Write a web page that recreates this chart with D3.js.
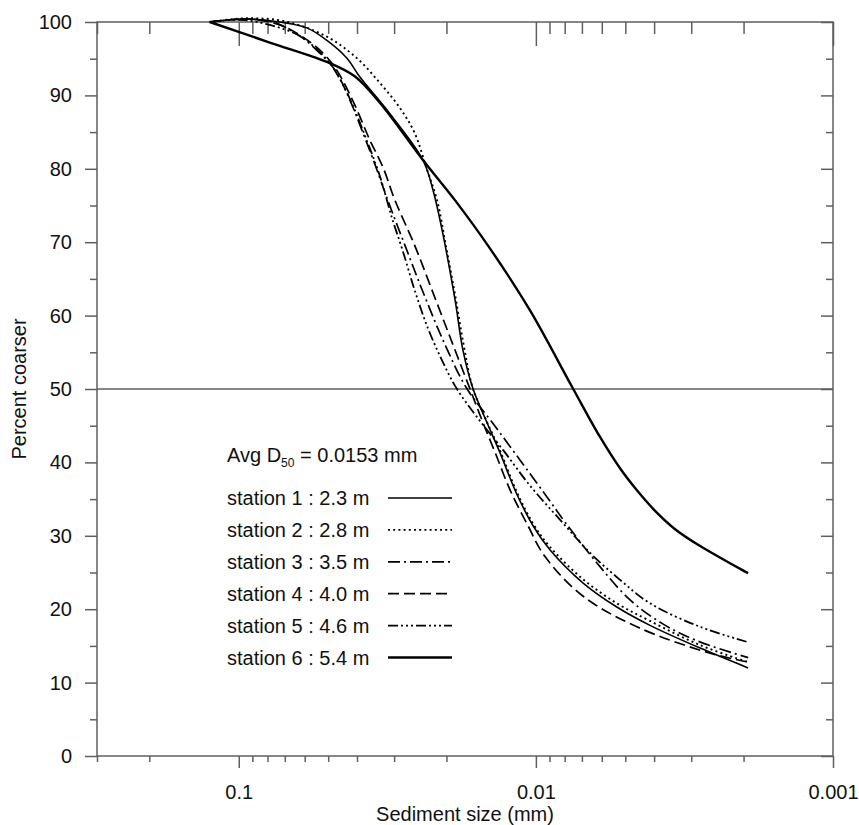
<!DOCTYPE html>
<html>
<head>
<meta charset="utf-8">
<script src="https://cdn.jsdelivr.net/npm/d3@7"></script>
<style>
  body { margin: 0; background: #fff; }
  svg { font-family: "Liberation Sans", Arial, sans-serif; }
  .ax path.domain { display: none; }
  .ax line { stroke: #5f5f5f; stroke-width: 1.5; }
  .ax text { font-size: 20px; fill: #111; font-family: "Liberation Sans", Arial, sans-serif; }
</style>
</head>
<body>
<svg id="chart" width="859" height="825"></svg>
<script>
// grain size (mm) and percent coarser
const s1Size = [0.1252, 0.0954, 0.0728, 0.0590, 0.0505, 0.0433, 0.0391, 0.0317, 0.0240, 0.0222, 0.0206, 0.0187, 0.0176, 0.0163, 0.0146, 0.0132, 0.0116, 0.0102, 0.00897, 0.00695, 0.00534, 0.00413, 0.00280, 0.00193];
const s1Pct  = [100, 100.4, 100, 99.2, 97.5, 95.1, 92.5, 88.0, 81.2, 77.1, 71.3, 62.1, 55.3, 50.1, 45.4, 41.3, 35.7, 31.3, 28.1, 23.6, 20.3, 17.8, 14.7, 12.0];

const s2Size = [0.1252, 0.0954, 0.0700, 0.0505, 0.0401, 0.0335, 0.0287, 0.0256, 0.0233, 0.0215, 0.0201, 0.0187, 0.0175, 0.0163, 0.0146, 0.0132, 0.0116, 0.0102, 0.00897, 0.00695, 0.00534, 0.00413, 0.00280, 0.00193];
const s2Pct  = [100, 100.5, 100.1, 98.0, 95.1, 91.7, 88.3, 84.9, 80.0, 75.7, 69.6, 62.8, 56.0, 50.1, 45.5, 41.6, 36.0, 31.6, 28.5, 24.1, 20.8, 18.4, 15.1, 12.8];

const s3Size = [0.1252, 0.0954, 0.0756, 0.0609, 0.0526, 0.0475, 0.0423, 0.0382, 0.0348, 0.0315, 0.0276, 0.0236, 0.0202, 0.0171, 0.0140, 0.0113, 0.00918, 0.00799, 0.00623, 0.00483, 0.00374, 0.00287, 0.00193];
const s3Pct  = [100, 100.4, 99.9, 97.8, 95.5, 93.5, 89.4, 84.9, 80.6, 75.7, 69.6, 62.5, 56.0, 50.1, 45.4, 40.3, 35.3, 31.9, 26.3, 21.3, 18.0, 15.7, 13.4];

const s4Size = [0.1252, 0.0918, 0.0716, 0.0586, 0.0513, 0.0464, 0.0407, 0.0362, 0.0327, 0.0298, 0.0256, 0.0219, 0.0190, 0.0167, 0.0152, 0.0137, 0.0122, 0.0107, 0.00933, 0.00695, 0.00457, 0.00259, 0.00193];
const s4Pct  = [100, 100.4, 99.5, 97.5, 95.5, 93.2, 88.7, 83.9, 80.2, 75.7, 69.6, 62.5, 56.0, 50.1, 45.8, 41.3, 36.2, 31.6, 27.2, 21.8, 17.6, 14.0, 12.8];

const s5Size = [0.1252, 0.0992, 0.0786, 0.0623, 0.0534, 0.0486, 0.0440, 0.0407, 0.0371, 0.0335, 0.0305, 0.0280, 0.0256, 0.0231, 0.0207, 0.0185, 0.0158, 0.0129, 0.0105, 0.00830, 0.00658, 0.00521, 0.00413, 0.00280, 0.00193];
const s5Pct  = [100, 100.3, 99.6, 98.1, 95.9, 94.0, 91.0, 88.0, 83.9, 79.0, 73.3, 68.7, 63.5, 58.3, 53.9, 50.1, 46.2, 41.7, 36.9, 32.2, 27.7, 24.0, 20.8, 17.6, 15.5];

const s6Size = [0.1252, 0.0786, 0.0494, 0.0407, 0.0335, 0.0240, 0.0187, 0.0143, 0.0105, 0.00751, 0.00609, 0.00521, 0.00457, 0.00397, 0.00340, 0.00280, 0.00193];
const s6Pct  = [100, 97.2, 94.4, 92.6, 89.0, 81.2, 75.7, 69.2, 60.8, 50.1, 43.5, 39.2, 36.2, 33.4, 30.9, 28.6, 24.9];

const stationLabels = ["station 1 : 2.3 m", "station 2 : 2.8 m", "station 3 : 3.5 m",
                       "station 4 : 4.0 m", "station 5 : 4.6 m", "station 6 : 5.4 m"];

const xMajor = [0.1, 0.01, 0.001];
const xMajorLabels = ["0.1", "0.01", "0.001"];
const xMinor = [0.3, 0.2, 0.09, 0.08, 0.07, 0.06, 0.05, 0.04, 0.03, 0.02,
                0.009, 0.008, 0.007, 0.006, 0.005, 0.004, 0.003, 0.002];
const yMajor = [0, 10, 20, 30, 40, 50, 60, 70, 80, 90, 100];
const yMinor = [5, 15, 25, 35, 45, 55, 65, 75, 85, 95];

const d50Line = 50;

// line styles per station (solid, dotted, dash-dot, dashed, dash-dot-dot-dot, thick solid)
const dashes = [null, "2,3.2", "12,4,2,4", "11,5", "10,3,2,3,2,3,2,3", null];
const widths = [1.6, 1.9, 1.7, 1.7, 1.8, 2.4];

const svg = d3.select("#chart");
const pL = 97, pR = 833, pT = 22, pB = 756;

const x = d3.scaleLog().domain([0.3, 0.001]).range([pL, pR]);
const y = d3.scaleLinear().domain([0, 100]).range([pB, pT]);

// frame
svg.append("rect")
  .attr("x", pL).attr("y", pT)
  .attr("width", pR - pL).attr("height", pB - pT)
  .attr("fill", "none").attr("stroke", "#5f5f5f").attr("stroke-width", 1.5);

// bottom axis
svg.append("g").attr("class", "ax").attr("transform", `translate(0,${pB})`)
  .call(d3.axisBottom(x).tickValues(xMajor).tickSize(12).tickPadding(17)
    .tickFormat((d, i) => xMajorLabels[i]));
svg.append("g").attr("class", "ax").attr("transform", `translate(0,${pB})`)
  .call(d3.axisBottom(x).tickValues(xMinor).tickSize(6).tickFormat(""));

// top axis (ticks inward)
svg.append("g").attr("class", "ax").attr("transform", `translate(0,${pT})`)
  .call(d3.axisTop(x).tickValues(xMajor).tickSize(-24).tickFormat(""));
svg.append("g").attr("class", "ax").attr("transform", `translate(0,${pT})`)
  .call(d3.axisTop(x).tickValues(xMinor).tickSize(-12).tickFormat(""));

// left axis
svg.append("g").attr("class", "ax").attr("transform", `translate(${pL},0)`)
  .call(d3.axisLeft(y).tickValues(yMajor).tickSize(12).tickPadding(13).tickFormat(d3.format("d")));
svg.append("g").attr("class", "ax").attr("transform", `translate(${pL},0)`)
  .call(d3.axisLeft(y).tickValues(yMinor).tickSize(7).tickFormat(""));

// right axis (ticks inward)
svg.append("g").attr("class", "ax").attr("transform", `translate(${pR},0)`)
  .call(d3.axisRight(y).tickValues(yMajor).tickSize(-12).tickFormat(""));
svg.append("g").attr("class", "ax").attr("transform", `translate(${pR},0)`)
  .call(d3.axisRight(y).tickValues(yMinor).tickSize(-7).tickFormat(""));

// 50 % line
svg.append("line")
  .attr("x1", pL).attr("x2", pR)
  .attr("y1", y(d50Line)).attr("y2", y(d50Line))
  .attr("stroke", "#5f5f5f").attr("stroke-width", 1.5);

// axis titles
svg.append("text")
  .attr("x", (pL + pR) / 2).attr("y", 821)
  .attr("text-anchor", "middle").attr("font-size", 20).attr("fill", "#111")
  .text("Sediment size (mm)");
svg.append("text")
  .attr("transform", `translate(26,${(pT + pB) / 2}) rotate(-90)`)
  .attr("text-anchor", "middle").attr("font-size", 20).attr("fill", "#111")
  .text("Percent coarser");

// curves
const series = [
  [s1Size, s1Pct], [s2Size, s2Pct], [s3Size, s3Pct],
  [s4Size, s4Pct], [s5Size, s5Pct], [s6Size, s6Pct]
];
const line = d3.line()
  .x(d => x(d[0])).y(d => y(d[1]))
  .curve(d3.curveCatmullRom.alpha(0.5));

series.forEach((s, i) => {
  const pts = s[0].map((v, j) => [v, s[1][j]]);
  svg.append("path")
    .datum(pts)
    .attr("d", line)
    .attr("fill", "none")
    .attr("stroke", "#000")
    .attr("stroke-width", widths[i])
    .attr("stroke-dasharray", dashes[i]);
});

// legend
const lg = svg.append("g").attr("font-size", 20).attr("fill", "#111");
const avg = lg.append("text").attr("x", 227).attr("y", 462);
avg.append("tspan").text("Avg D");
avg.append("tspan").attr("font-size", 12).attr("dy", 5).text("50");
avg.append("tspan").attr("dy", -5).text(" = 0.0153 mm");

stationLabels.forEach((lab, i) => {
  const cy = 498 + i * 31.9;
  lg.append("text").attr("x", 227).attr("y", cy + 7).text(lab);
  lg.append("line")
    .attr("x1", 388).attr("x2", 452).attr("y1", cy).attr("y2", cy)
    .attr("stroke", "#000")
    .attr("stroke-width", widths[i])
    .attr("stroke-dasharray", dashes[i]);
});
</script>
</body>
</html>
